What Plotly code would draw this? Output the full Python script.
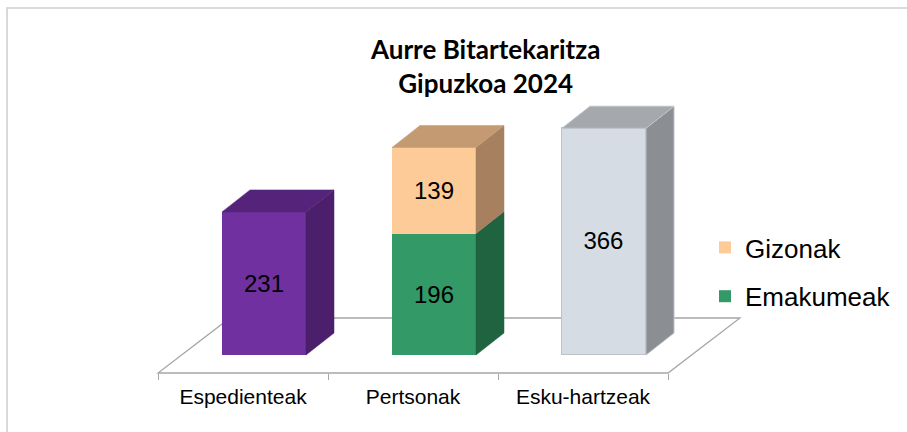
import plotly.graph_objects as go

# ---- data -------------------------------------------------------------
categories = ["Espedienteak", "Pertsonak", "Esku-hartzeak"]
emakumeak = [231, 196, 366]
gizonak = [None, 139, None]
title_lines = ["Aurre Bitartekaritza", "Gipuzkoa 2024"]

# ---- style ------------------------------------------------------------
front_colors = ["#7030A0", "#339966", "#D6DCE4"]
side_colors = ["#4B1F6B", "#206340", "#8B8E92"]
top_colors = ["#55247A", "#2A7A50", "#A5A8AD"]
edge_colors = ["#7030A0", "#339966", "#BDC2C8"]
giz_front, giz_side, giz_top = "#FDCB98", "#A6805F", "#C49A72"
floor_color = "#A6A6A6"
label_font = "Liberation Sans, Arial, sans-serif"

W, H = 907, 432
FLOOR_PX = 373          # floor front edge, px from top
CAT_PX = 170            # width of one category, px
CAT0_PX = 243           # centre of first category on the floor edge, px
Y_MIN, Y_MAX = -29.0, 573.0

kx = 1.0 / CAT_PX
ky = (Y_MAX - Y_MIN) / FLOOR_PX
x_range = [(0 - CAT0_PX) * kx, (W - CAT0_PX) * kx]
y_range = [Y_MIN - (H - FLOOR_PX) * ky, Y_MAX]

BAR_W = 84 * kx
BAR_SHIFT = 21 * kx               # front faces sit part way into the floor
DX, DY = 28 * kx, 22 * ky          # depth of a column
FDX, FDY = 72 * kx, 55 * ky        # depth of the floor

fig = go.Figure()

# ---- floor (drawn underneath everything) ------------------------------
n = len(categories)
fx0, fx1 = -0.5, n - 0.5
fy = Y_MIN
floor_path = (
    f"M {fx0},{fy} L {fx1},{fy} L {fx1 + FDX},{fy + FDY} "
    f"L {fx0 + FDX},{fy + FDY} Z"
)
fig.add_shape(type="path", path=floor_path, xref="x", yref="y",
              line=dict(color=floor_color, width=1.3), layer="below")

# ---- front faces ------------------------------------------------------
xs = [i + BAR_SHIFT for i in range(n)]
fig.add_trace(go.Bar(
    x=xs, y=emakumeak, width=BAR_W, name="Emakumeak",
    marker=dict(color=front_colors,
                line=dict(color=edge_colors, width=[0, 0, 1.2])),
    text=[str(v) for v in emakumeak], textposition="inside",
    insidetextanchor="middle", textangle=0,
    textfont=dict(family=label_font, size=24, color="black"),
    showlegend=False, hoverinfo="skip",
))
fig.add_trace(go.Bar(
    x=xs, y=gizonak, width=BAR_W, name="Gizonak",
    marker=dict(color=giz_front, line=dict(width=0)),
    text=[str(v) if v is not None else "" for v in gizonak],
    textposition="inside", insidetextanchor="middle", textangle=0,
    textfont=dict(family=label_font, size=24, color="black"),
    showlegend=False, hoverinfo="skip",
))


def poly(px, py, fill, edge, width):
    fig.add_trace(go.Scatter(
        x=px + [px[0]], y=py + [py[0]], mode="lines", fill="toself",
        fillcolor=fill, line=dict(color=edge, width=width),
        showlegend=False, hoverinfo="skip",
    ))


# ---- side and top faces ----------------------------------------------
for i in range(n):
    xl = xs[i] - BAR_W / 2
    xr = xs[i] + BAR_W / 2
    segments = [(0, emakumeak[i], side_colors[i], top_colors[i])]
    if gizonak[i] is not None:
        segments.append((emakumeak[i], emakumeak[i] + gizonak[i],
                         giz_side, giz_top))
    is_grey = i == 2
    for y0, y1, sc, _ in segments:
        poly([xr, xr + DX, xr + DX, xr], [y0, y0 + DY, y1 + DY, y1], sc,
             edge_colors[i] if is_grey else sc, 1.0 if is_grey else 0.5)
    yt, tc = segments[-1][1], segments[-1][3]
    poly([xl, xl + DX, xr + DX, xr], [yt, yt + DY, yt + DY, yt], tc,
         edge_colors[i] if is_grey else tc, 1.0 if is_grey else 0.5)

# ---- legend entries ---------------------------------------------------
for name, col in (("Gizonak", giz_front), ("Emakumeak", front_colors[1])):
    fig.add_trace(go.Scatter(
        x=[None], y=[None], mode="markers", name=name, legendgroup=name,
        marker=dict(symbol="square", size=12, color=col),
    ))

# ---- frame around the chart -------------------------------------------
fig.add_shape(type="rect", xref="paper", yref="paper",
              x0=7 / W, x1=1.05, y0=-0.05, y1=1 - 8 / H,
              line=dict(color="#D0D0D0", width=1.6), layer="below")

# ---- title ------------------------------------------------------------
fig.add_annotation(
    text="<b>" + "<br>".join(title_lines) + "</b>",
    xref="paper", yref="paper", x=485 / W, y=1 - 66 / H,
    xanchor="center", yanchor="middle", showarrow=False,
    font=dict(family="Lato, sans-serif", size=26, color="black"),
)

fig.update_layout(
    width=W, height=H,
    margin=dict(l=0, r=0, t=0, b=0),
    paper_bgcolor="white", plot_bgcolor="rgba(0,0,0,0)",
    barmode="stack", bargap=0,
    legend=dict(x=705 / W, xanchor="left", y=1 - 224 / H, yanchor="top",
                font=dict(family=label_font, size=26, color="black"),
                tracegroupgap=12, traceorder="grouped",
                bgcolor="rgba(0,0,0,0)"),
    xaxis=dict(range=x_range, anchor="free", position=(H - FLOOR_PX) / H,
               tickmode="array", tickvals=list(range(n)), ticktext=categories,
               ticks="", showline=False, showgrid=False, zeroline=False,
               tickfont=dict(family=label_font, size=21, color="black"),
               ticklabelstandoff=9,
               minor=dict(tickmode="array",
                          tickvals=[k - 0.5 for k in range(n + 1)],
                          ticks="outside", ticklen=6, tickwidth=1.3,
                          tickcolor=floor_color, showgrid=False)),
    yaxis=dict(range=y_range, visible=False, showgrid=False, zeroline=False),
)

fig.write_html("out.html")
